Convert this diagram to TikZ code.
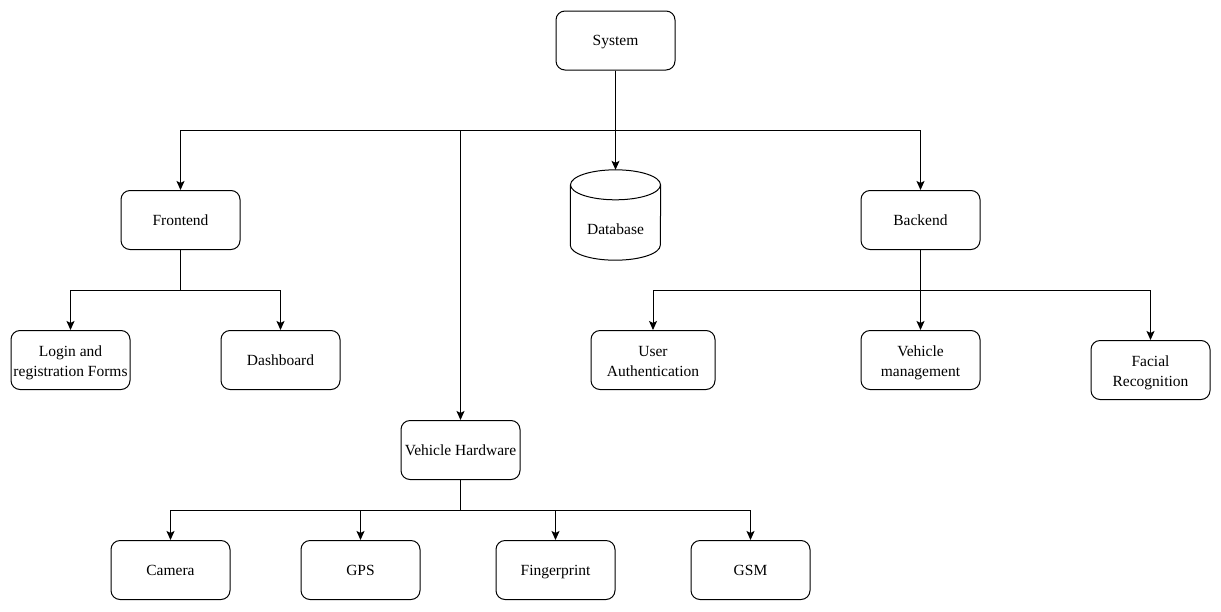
\documentclass[tikz,border=0pt]{standalone}
\usepackage{fontspec}
\setmainfont{Liberation Serif}
\newfontfamily\tms{Liberation Serif}
\newcommand\boxstrut{\rule[-4pt]{0pt}{18.4pt}}
\newcommand\tallstrut{\rule[-4pt]{0pt}{20.4pt}}
\usetikzlibrary{arrows.meta}
\begin{document}
\begin{tikzpicture}[x=1pt,y=-1pt,
  basetxt/.style={font=\tms\fontsize{15.5}{20}\selectfont},
  txt/.style={basetxt, execute at begin node={\boxstrut}, execute at end node={\boxstrut}},
  basebox/.style={draw, line width=1pt, rounded corners=9pt, minimum width=119pt, minimum height=59pt, align=center, inner sep=1pt},
  box/.style={basebox, txt},
  twobox/.style={basebox, basetxt},
  conn/.style={line width=1pt},
  arr/.style={conn, -{Stealth[length=9pt,width=8pt,inset=2pt]}},
  dblabel/.style={minimum width=90pt, minimum height=90pt, inner sep=0pt}
]
\fill[white] (0,0) rectangle (1221,611);
\useasboundingbox (0,0) rectangle (1221,611);

\node[box] (sys) at (615.5,40.5) {System};
\node[box] (fe) at (180.5,220) {Frontend};
\node[box] (be) at (920.5,220) {Backend};
\node[dblabel] (db) at (615.5,215) {};
\node[txt, inner sep=0pt] (dbt) at (615.5,229) {Database};
\node[twobox] (login) at (70.5,360) {\tallstrut Login and\\registration Forms\boxstrut};
\node[box] (dash) at (280.5,360) {Dashboard};
\node[twobox, minimum width=124pt] (ua) at (653,360) {\tallstrut User\\Authentication\boxstrut};
\node[twobox] (vm) at (920.5,360) {\tallstrut Vehicle\\management\boxstrut};
\node[twobox] (fr) at (1150.5,370) {\tallstrut Facial\\Recognition\boxstrut};
\node[box] (vh) at (460.5,450) {Vehicle Hardware};
\node[box] (cam) at (170.5,570) {Camera};
\node[box] (gps) at (360.5,570) {GPS};
\node[box] (fp) at (555.5,570) {Fingerprint};
\node[box] (gsm) at (750.5,570) {GSM};

% database cylinder
\draw[line width=1pt] ([yshift=-15pt]db.north) ellipse [x radius=45pt, y radius=15pt];
\draw[line width=1pt] ([yshift=-15pt]db.north west) -- ([yshift=15pt]db.south west)
  arc[start angle=180, end angle=360, x radius=45pt, y radius=15pt]
  -- ([yshift=-15pt]db.north east);

% connectors
\draw[arr] (sys.south) -- ++(0,60) -| (fe.north);
\draw[arr] (sys.south) -- ++(0,60) -| (be.north);
\draw[arr] (sys.south) -- (db.north);
\draw[arr] (sys.south) -- ++(0,60) -| (vh.north);

\draw[arr] (fe.south) -- ++(0,40) -| (login.north);
\draw[arr] (fe.south) -- ++(0,40) -| (dash.north);

\draw[arr] (be.south) -- ++(0,40) -| (ua.north);
\draw[arr] (be.south) -- (vm.north);
\draw[arr] (be.south) -- ++(0,40) -| (fr.north);

\draw[arr] (vh.south) -- ++(0,30) -| (cam.north);
\draw[arr] (vh.south) -- ++(0,30) -| (gps.north);
\draw[arr] (vh.south) -- ++(0,30) -| (fp.north);
\draw[arr] (vh.south) -- ++(0,30) -| (gsm.north);
\end{tikzpicture}
\end{document}
